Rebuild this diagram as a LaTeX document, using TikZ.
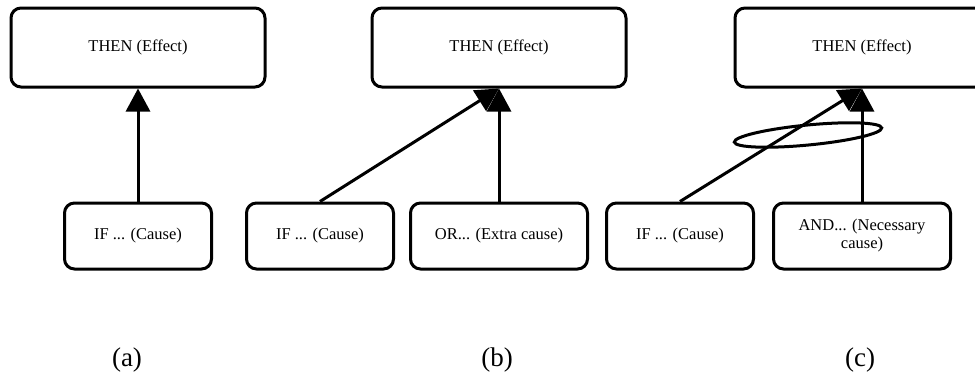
\documentclass[tikz,border=0pt]{standalone}
\usepackage{fontspec}
\setmainfont{Liberation Serif}
\usetikzlibrary{positioning, arrows.meta, shapes.geometric}

\begin{document}
\begin{tikzpicture}[
    line width=3pt,
    box/.style={rectangle, draw, rounded corners=10pt, align=center, inner sep=2pt, font=\fontsize{16.5}{18}\selectfont},
    effect/.style={box, minimum width=254pt, minimum height=79pt},
    cause/.style={box, minimum width=147pt, minimum height=66pt},
    extra/.style={box, minimum width=177pt, minimum height=66pt},
    arrow/.style={-{Triangle[length=23pt, width=24pt]}},
    caption/.style={font=\fontsize{27}{30}\selectfont}
]

% Canvas
\clip (0,0) rectangle (975pt,-378pt);

% Panel (a)
\node[effect] (thena) at (138pt,-47.5pt) {THEN (Effect)};
\node[cause, below=113pt of thena] (ifa) {IF ... (Cause)};
\draw[arrow] (ifa) -- (thena);
\node[caption] (capa) at (127pt,-360pt) {(a)};

% Panel (b)
\node[effect] (thenb) at (499pt,-47.5pt) {THEN (Effect)};
\node[extra, below=113pt of thenb] (orb) {OR... (Extra cause)};
\node[cause, left=14pt of orb] (ifb) {IF ... (Cause)};
\draw[arrow] (ifb.north) -- (thenb.south);
\draw[arrow] (orb) -- (thenb);
\node[caption] (capb) at (497pt,-360pt) {(b)};

% Panel (c)
\node[effect] (thenc) at (862pt,-47.5pt) {THEN (Effect)};
\node[extra, below=113pt of thenc] (andc) {AND... (Necessary\\cause)};
\node[cause, left=17pt of andc] (ifc) {IF ... (Cause)};
\draw[arrow] (ifc.north) -- (thenc.south);
\draw[arrow] (andc) -- (thenc);
\node[ellipse, draw, minimum width=148pt, minimum height=20pt, inner sep=0pt, rotate=5.5] (ring) at (808pt,-135pt) {};
\node[caption] (capc) at (860pt,-360pt) {(c)};

\end{tikzpicture}
\end{document}
